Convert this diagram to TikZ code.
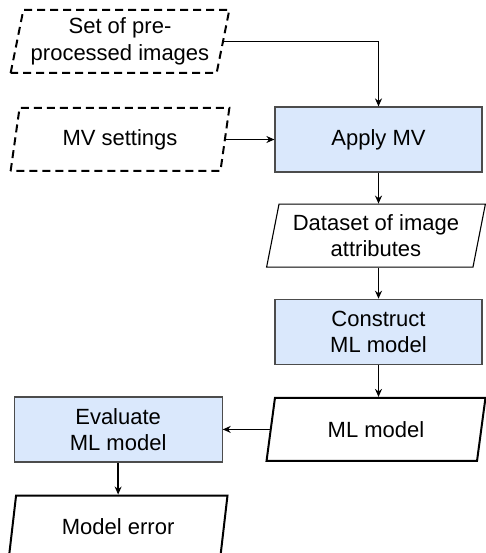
\documentclass[tikz,border=0pt]{standalone}
\usepackage{fontspec}
\setmainfont{Liberation Sans}
\usetikzlibrary{positioning}
\usetikzlibrary{arrows.meta}
\usetikzlibrary{shapes.geometric}
\definecolor{procblue}{RGB}{218,232,252}

\begin{document}
\begin{tikzpicture}[x=1pt, y=1pt, node distance=31pt and 48pt, >={Stealth[length=8pt, width=7pt]},
    every node/.style={align=center, font=\fontsize{22}{26.5}\selectfont, inner sep=0pt},
    proc/.style={draw=black!70, line width=1.2pt, fill=procblue, minimum width=207pt, minimum height=65pt},
    io/.style={draw, trapezium, trapezium left angle=76, trapezium right angle=104, trapezium stretches=true, minimum width=219pt, minimum height=63pt},
    thin io/.style={io, line width=1.1pt},
    thick io/.style={io, line width=2pt},
    given/.style={io, line width=2pt, dash pattern=on 8pt off 5pt},
    flow/.style={->, line width=1.6pt}]
    \useasboundingbox (0,0) rectangle (485,-553);

    \node (apply) [proc] at (378.5,-139.5) {Apply MV};
    \node (mvset) [given, left=48.5pt of apply] {MV settings};
    \node (images) [given, above=33pt of mvset] {Set of pre-\\processed images};
    \node (attr) [thin io, below=of apply, xshift=-2.5pt] {Dataset of image\\attributes};
    \node (build) [proc, below=of attr, xshift=2.5pt] {Construct\\ML model};
    \node (model) [thick io, below=32pt of build, xshift=-2.5pt] {ML model};
    \node (eval) [proc, minimum width=208pt, left=47pt of model] {Evaluate\\ML model};
    \node (err) [thick io, below=32pt of eval] {Model error};

    \draw[flow] (images.east) -| (apply.north);
    \draw[flow] (mvset.east) -- (apply.west);
    \draw[flow] (apply.south) -- (apply.south |- attr.north);
    \draw[flow] (attr.south -| build.north) -- (build.north);
    \draw[flow] (build.south) -- (build.south |- model.north);
    \draw[flow] (model.west) -- (eval.east);
    \draw[flow] (eval.south) -- (err.north);
\end{tikzpicture}
\end{document}
